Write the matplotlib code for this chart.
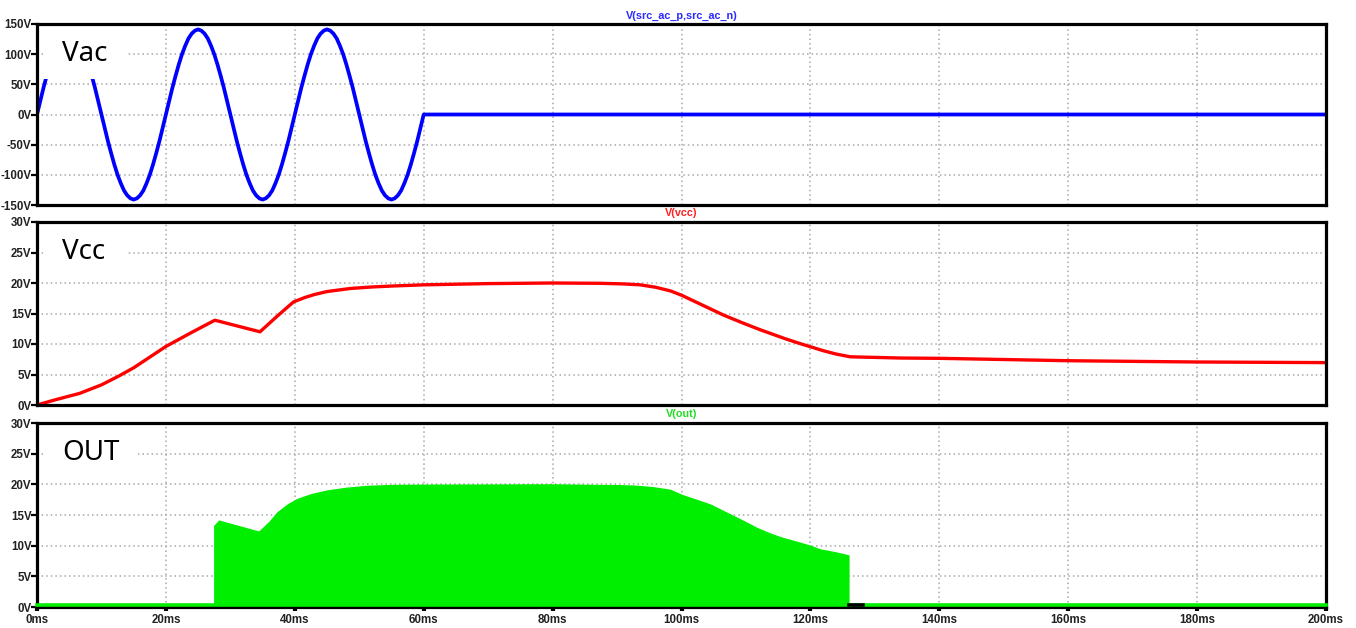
import matplotlib
matplotlib.use("Agg")
import matplotlib.pyplot as plt
from matplotlib.patches import Rectangle

# time axis (ms) and the three traces
# Vac sampled every 0.5 ms for three cycles, then held at 0 V
vac_pos_half = [0, 22, 44, 64, 83, 100, 114, 126, 134, 139,
                141, 139, 134, 126, 114, 100, 83, 64, 44, 22]
vac_neg_half = [0, -22, -44, -64, -83, -100, -114, -126, -134, -139,
                -141, -139, -134, -126, -114, -100, -83, -64, -44, -22]
vac_v = (vac_pos_half + vac_neg_half) * 3 + [0, 0]
vac_t = [k * 0.5 for k in range(121)] + [200]

vcc_t = [0, 3, 6.6, 10, 12.7, 15, 20, 24, 27.6, 34.6, 37.2, 39.8, 41.5, 43, 45, 48.6, 52, 55, 60,
         70, 80, 87.4, 91, 93.6, 96, 98.3, 100, 103, 106.5, 109.5, 112.3, 116, 118, 120, 122, 124,
         126.2, 134, 140, 160, 180, 200]
vcc_v = [0, 0.9, 1.9, 3.3, 4.75, 6.1, 9.6, 11.9, 13.9, 12.0, 14.5, 16.9, 17.6, 18.1, 18.6, 19.1,
         19.35, 19.5, 19.7, 19.9, 20.0, 19.95, 19.85, 19.7, 19.3, 18.7, 18.0, 16.5, 14.75, 13.45,
         12.3, 10.9, 10.2, 9.55, 8.9, 8.35, 7.9, 7.7, 7.65, 7.26, 7.05, 6.95]

# envelope of the switching output
out_t = [27.4, 27.4, 28.2, 34.4, 36, 37.2, 38.8, 40.3, 42.5, 45, 48, 51.2, 55, 60, 80, 87.4,
         90, 92.6, 95.5, 98.3, 100, 102, 104.5, 107, 109.5, 111.7, 113.5, 115.3, 118, 120,
         121.5, 124, 126.0, 126.0]
out_v = [0, 13.3, 14.2, 12.4, 14.0, 15.5, 16.8, 17.7, 18.5, 19.1, 19.55, 19.85, 20.0, 20.05,
         20.1, 20.0, 19.98, 19.9, 19.65, 19.2, 18.4, 17.7, 16.8, 15.5, 14.2, 13.0, 12.2, 11.5,
         10.7, 10.1, 9.5, 9.0, 8.5, 0]

x_ticks = list(range(0, 201, 20))
x_labels = [f"{t}ms" for t in x_ticks]
vac_ticks = [-150, -100, -50, 0, 50, 100, 150]
v30_ticks = [0, 5, 10, 15, 20, 25, 30]

W, H = 1356, 628
fig = plt.figure(figsize=(W / 100, H / 100), dpi=100)

left = 37 / W
width = (1326 - 37) / W


def make_axes(top_px, bottom_px):
    ax = fig.add_axes([left, 1 - bottom_px / H, width, (bottom_px - top_px) / H])
    ax.set_xlim(0, 200)
    ax.set_xticks(x_ticks)
    ax.grid(True, color="#a8a8a8", linestyle=(0, (1, 2)), linewidth=1.1)
    ax.set_axisbelow(True)
    for s in ax.spines.values():
        s.set_linewidth(2.3)
        s.set_color("black")
    ax.tick_params(axis="y", direction="out", length=4, width=1.6, pad=0,
                   labelcolor="#222222")
    return ax


def label_box(ax, text, x1, y0):
    # white patch behind the big trace name, hides curve and grid
    ax.add_patch(Rectangle((0.005, y0), x1 - 0.005, 0.995 - y0, transform=ax.transAxes,
                           facecolor="white", edgecolor="none", zorder=2.2))
    ax.text(0.0194, 0.835, text, transform=ax.transAxes, ha="left", va="center",
            fontsize=20, family="Noto Sans", color="black", zorder=3)


tick_font = dict(family="Liberation Sans", fontweight="bold", fontsize=8.3)

# Vac
ax1 = make_axes(24, 205)
ax1.set_ylim(-150, 150)
ax1.set_yticks(vac_ticks)
ax1.set_yticklabels([f"{v}V" for v in vac_ticks], **tick_font)
ax1.tick_params(axis="x", length=0, labelbottom=False)
ax1.plot(vac_t, vac_v, color="#0000ff", lw=2.7, solid_joinstyle="round", zorder=2)
label_box(ax1, "Vac", 0.0706, 0.696)
ax1.set_title("V(src_ac_p,src_ac_n)", color="#2a2aff", fontsize=7.8,
              fontweight="bold", family="Liberation Sans", pad=4)

# Vcc
ax2 = make_axes(222, 405)
ax2.set_ylim(0, 30)
ax2.set_yticks(v30_ticks)
ax2.set_yticklabels([f"{v}V" for v in v30_ticks], **tick_font)
ax2.tick_params(axis="x", length=0, labelbottom=False)
ax2.plot(vcc_t, vcc_v, color="#ff0000", lw=2.4, solid_joinstyle="round", zorder=2)
label_box(ax2, "Vcc", 0.0706, 0.70)
ax2.set_title("V(vcc)", color="#ff2020", fontsize=7.8,
              fontweight="bold", family="Liberation Sans", pad=4)

# OUT
ax3 = make_axes(423, 607)
ax3.set_ylim(0, 30)
ax3.set_yticks(v30_ticks)
ax3.set_yticklabels([f"{v}V" for v in v30_ticks], **tick_font)
ax3.set_xticklabels(x_labels, **tick_font, color="#222222")
ax3.tick_params(axis="x", direction="out", length=3, width=3, pad=2)
ax3.fill_between(out_t, 0, out_v, color="#00ee00", linewidth=0, zorder=2)
# output low level, drawn over the bottom frame
ax3.plot([0, 200], [0.25, 0.25], color="#00ee00", lw=2.6, zorder=3, clip_on=False)
ax3.plot([126.0, 128.2], [0.25, 0.25], color="black", lw=2.6, zorder=3.1, clip_on=False)
label_box(ax3, "OUT", 0.078, 0.70)
ax3.set_title("V(out)", color="#22dd22", fontsize=7.8,
              fontweight="bold", family="Liberation Sans", pad=4)

fig.savefig("out.png", dpi=100)
